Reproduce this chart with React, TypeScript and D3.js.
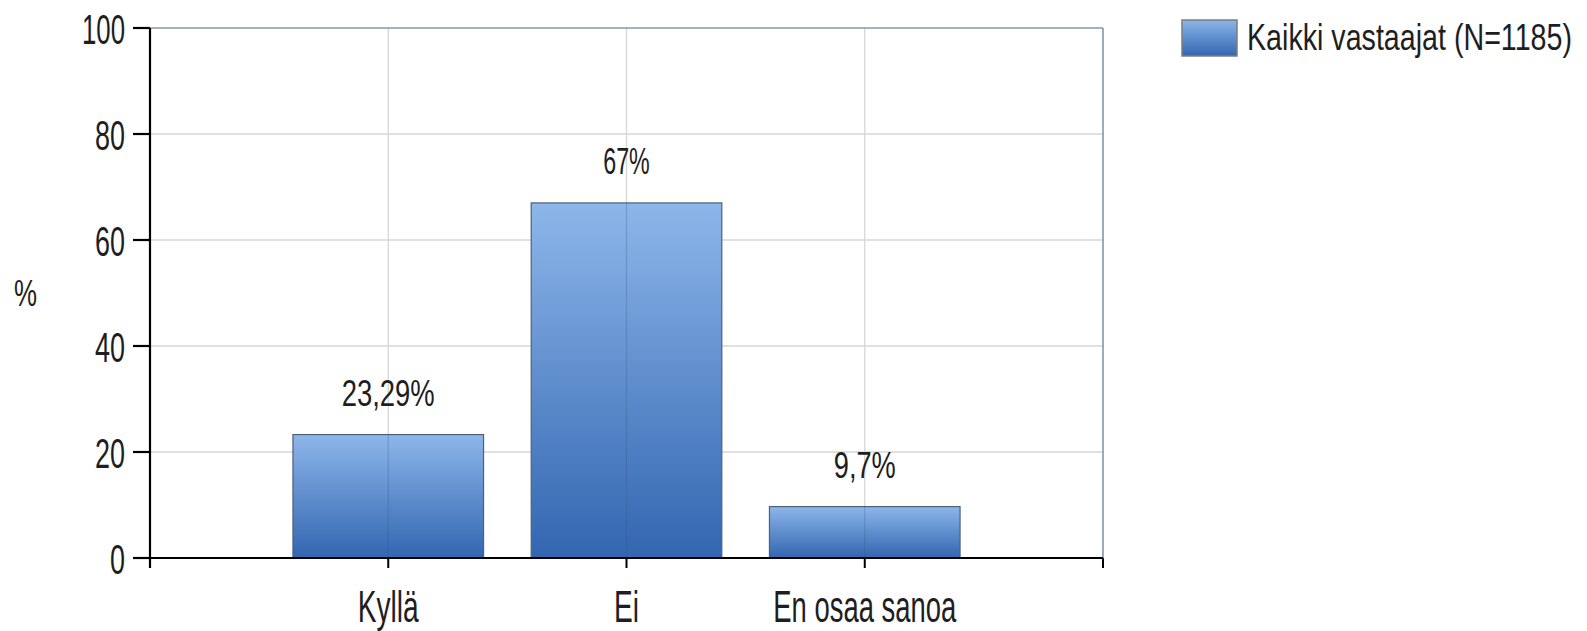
import React from "react";
import * as d3 from "d3";

const categories = ["Kyllä", "Ei", "En osaa sanoa"];
const values = [23.29, 67, 9.7];
const yTicks = [0, 20, 40, 60, 80, 100];
const seriesName = "Kaikki vastaajat (N=1185)";
const yTitle = "%";

const W = 1587;
const H = 631;
const left = 150;
const right = 1103;
const top = 28;
const bottom = 558;

const fiLocale = d3.formatLocale({ decimal: ",", thousands: " ", grouping: [3], currency: ["", "€"] });
const fmt = fiLocale.format("~g");

const FONT = "'Liberation Sans', Arial, sans-serif";
const TXT = "#1e1e1e";

// approximate rendered widths (the original font is condensed)
const tickW: Record<string, number> = { "0": 15, "20": 30, "40": 30, "60": 30, "80": 30, "100": 43 };
const catW: Record<string, number> = { "Kyllä": 61, "Ei": 25, "En osaa sanoa": 183 };
const valW = (s: string) => s.length * 15.5;

export default function App() {
  const x = d3.scaleLinear().domain([0, categories.length + 1]).range([left, right]);
  const y = d3.scaleLinear().domain([0, 100]).range([bottom, top]);
  const step = x(1) - x(0);
  const bw = step * 0.8;

  return (
    <svg width={W} height={H} style={{ position: "absolute", left: 0, top: 0, background: "#fff" }}>
      <defs>
        <linearGradient id="barGrad" x1="0" y1="0" x2="0" y2="1">
          <stop offset="0%" stopColor="#8db6ea" />
          <stop offset="100%" stopColor="#3266b0" />
        </linearGradient>
      </defs>
      <rect x={0} y={0} width={W} height={H} fill="#fff" />

      {/* horizontal grid */}
      {yTicks.filter((t) => t > 0 && t < 100).map((t) => (
        <line key={"hg" + t} x1={left} x2={right} y1={y(t)} y2={y(t)} stroke="#d6d6d6" strokeWidth={1.6} />
      ))}
      {/* vertical grid */}
      {categories.map((c, i) => (
        <line key={"vg" + c} x1={x(i + 1)} x2={x(i + 1)} y1={top} y2={bottom} stroke="#d6d6d6" strokeWidth={1.3} />
      ))}
      {/* plot border top/right */}
      <line x1={left} x2={right} y1={top} y2={top} stroke="#8497ad" strokeWidth={1.6} />
      <line x1={right} x2={right} y1={top} y2={bottom} stroke="#8497ad" strokeWidth={1.6} />

      {/* bars */}
      {categories.map((c, i) => (
        <rect
          key={"b" + c}
          x={x(i + 1) - bw / 2}
          y={y(values[i])}
          width={bw}
          height={y(0) - y(values[i])}
          fill="url(#barGrad)"
          stroke="#4f6076"
          strokeWidth={1.2}
        />
      ))}
      {/* grid lines faintly over bars */}
      {categories.map((c, i) => (
        <line key={"vo" + c} x1={x(i + 1)} x2={x(i + 1)} y1={y(values[i])} y2={bottom} stroke="#2d4f80" strokeOpacity={0.25} strokeWidth={1.2} />
      ))}

      {/* value labels */}
      {categories.map((c, i) => {
        const s = fmt(values[i]) + "%";
        return (
          <text
            key={"v" + c}
            x={x(i + 1)}
            y={y(values[i]) - 29}
            textAnchor="middle"
            fontFamily={FONT}
            fontSize={36}
            fill={TXT}
            textLength={valW(s)}
            lengthAdjust="spacingAndGlyphs"
          >
            {s}
          </text>
        );
      })}

      {/* axes */}
      <line x1={left} x2={left} y1={top} y2={bottom + 10} stroke="#000" strokeWidth={2.2} />
      <line x1={left} x2={right} y1={bottom} y2={bottom} stroke="#000" strokeWidth={2.2} />
      {yTicks.map((t) => (
        <g key={"yt" + t}>
          <line x1={left - 17} x2={left} y1={y(t)} y2={y(t)} stroke="#000" strokeWidth={2.2} />
          <text
            x={125}
            y={y(t) + 15.5}
            textAnchor="end"
            fontFamily={FONT}
            fontSize={43}
            fill={TXT}
            textLength={tickW[String(t)]}
            lengthAdjust="spacingAndGlyphs"
          >
            {t}
          </text>
        </g>
      ))}
      {[0, ...categories.map((_, i) => i + 1), categories.length + 1].map((v) => (
        <line key={"xt" + v} x1={x(v)} x2={x(v)} y1={bottom} y2={bottom + 10} stroke="#000" strokeWidth={2} />
      ))}
      {categories.map((c, i) => (
        <text
          key={"xl" + c}
          x={x(i + 1)}
          y={621.5}
          textAnchor="middle"
          fontFamily={FONT}
          fontSize={44}
          fill={TXT}
          textLength={catW[c]}
          lengthAdjust="spacingAndGlyphs"
        >
          {c}
        </text>
      ))}

      {/* y title */}
      <text x={25.5} y={306} textAnchor="middle" fontFamily={FONT} fontSize={37} fill={TXT} textLength={23} lengthAdjust="spacingAndGlyphs">
        {yTitle}
      </text>

      {/* legend */}
      <rect x={1182} y={20} width={55} height={36} fill="url(#barGrad)" stroke="#7d7d7d" strokeWidth={1.5} />
      <g transform="translate(1247,50) scale(1,1.4)">
        <text x={0} y={0} fontFamily={FONT} fontSize={27} fill={TXT} textLength={325} lengthAdjust="spacingAndGlyphs">
          {seriesName}
        </text>
      </g>
    </svg>
  );
}
